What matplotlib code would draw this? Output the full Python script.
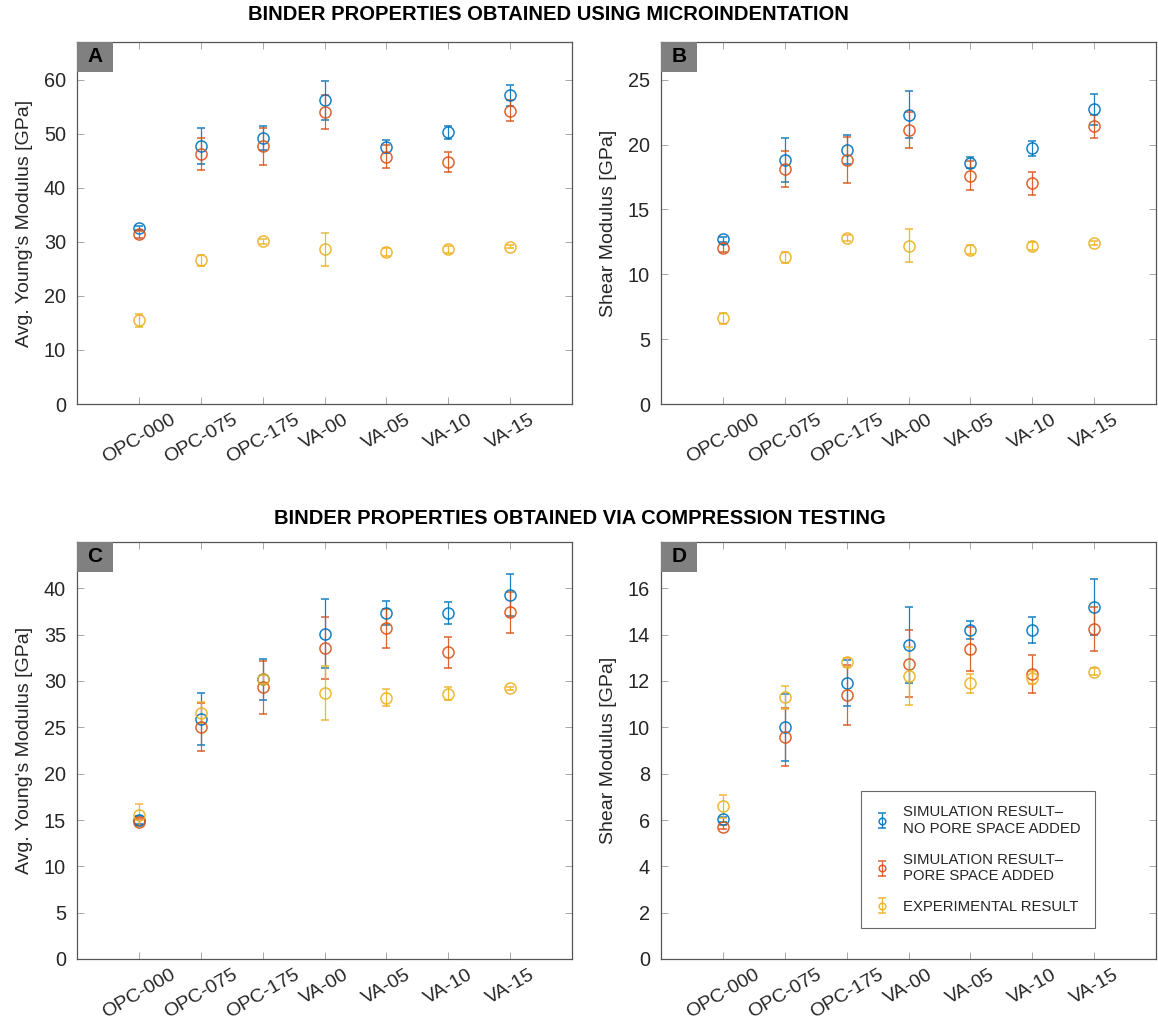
import matplotlib
matplotlib.use("Agg")
import matplotlib.pyplot as plt
from matplotlib.patches import Rectangle
import numpy as np

plt.rcParams['font.family'] = ['Liberation Sans', 'DejaVu Sans']

categories = ["OPC-000", "OPC-075", "OPC-175", "VA-00", "VA-05", "VA-10", "VA-15"]

# Panel A: Young's modulus (microindentation)
A_nopore = [32.6, 47.8, 49.3, 56.2, 47.6, 50.3, 57.1]
A_nopore_err = [0.4, 3.3, 2.2, 3.6, 1.2, 1.2, 2.0]
A_pore = [31.4, 46.3, 47.7, 54.0, 45.8, 44.8, 54.3]
A_pore_err = [0.6, 3.0, 3.4, 3.1, 2.2, 1.9, 2.0]
A_exp = [15.5, 26.6, 30.1, 28.6, 28.1, 28.6, 29.1]
A_exp_err = [1.2, 1.0, 0.5, 3.0, 0.8, 0.6, 0.3]

# Panel B: Shear modulus (microindentation)
B_nopore = [12.7, 18.8, 19.6, 22.3, 18.6, 19.7, 22.7]
B_nopore_err = [0.2, 1.7, 1.1, 1.8, 0.4, 0.6, 1.2]
B_pore = [12.0, 18.1, 18.8, 21.1, 17.6, 17.0, 21.4]
B_pore_err = [0.3, 1.4, 1.75, 1.4, 1.1, 0.9, 0.9]
B_exp = [6.6, 11.3, 12.8, 12.2, 11.9, 12.2, 12.4]
B_exp_err = [0.45, 0.45, 0.25, 1.25, 0.35, 0.3, 0.15]

# Panel C: Young's modulus (compression testing)
C_nopore = [15.0, 25.9, 30.2, 35.1, 37.3, 37.3, 39.3]
C_nopore_err = [0.4, 2.8, 2.2, 3.7, 1.3, 1.2, 2.3]
C_pore = [14.8, 25.0, 29.3, 33.6, 35.7, 33.1, 37.4]
C_pore_err = [0.3, 2.6, 2.85, 3.35, 2.1, 1.7, 2.2]
C_exp = [15.55, 26.6, 30.2, 28.7, 28.2, 28.65, 29.2]
C_exp_err = [1.15, 1.1, 0.5, 2.9, 0.9, 0.7, 0.2]

# Panel D: Shear modulus (compression testing)
D_nopore = [6.03, 10.0, 11.9, 13.55, 14.2, 14.2, 15.2]
D_nopore_err = [0.1, 1.45, 1.0, 1.65, 0.4, 0.57, 1.2]
D_pore = [5.7, 9.6, 11.4, 12.75, 13.4, 12.3, 14.25]
D_pore_err = [0.1, 1.25, 1.3, 1.45, 0.95, 0.83, 0.95]
D_exp = [6.6, 11.3, 12.8, 12.2, 11.9, 12.15, 12.4]
D_exp_err = [0.5, 0.5, 0.2, 1.25, 0.4, 0.3, 0.15]

series_labels = ["SIMULATION RESULT\u2013\nNO PORE SPACE ADDED",
                 "SIMULATION RESULT\u2013\nPORE SPACE ADDED",
                 "EXPERIMENTAL RESULT"]
colors = ["#0072BD", "#D95319", "#EDB120"]

panel_titles = ["BINDER PROPERTIES OBTAINED USING MICROINDENTATION",
                "BINDER PROPERTIES OBTAINED VIA COMPRESSION TESTING"]

W, H = 1158, 1024
fig = plt.figure(figsize=(W / 100, H / 100), dpi=100)


def px_axes(left, top, right, bottom):
    return fig.add_axes([left / W, 1 - bottom / H, (right - left) / W, (bottom - top) / H])


panels = [
    dict(box=(77, 42, 572, 404), letter="A", ylabel="Avg. Young's Modulus [GPa]", ylim=(0, 67),
         yticks=np.arange(0, 61, 10),
         data=[(A_nopore, A_nopore_err), (A_pore, A_pore_err), (A_exp, A_exp_err)]),
    dict(box=(661, 42, 1156, 404), letter="B", ylabel="Shear Modulus [GPa]", ylim=(0, 27.9),
         yticks=np.arange(0, 26, 5),
         data=[(B_nopore, B_nopore_err), (B_pore, B_pore_err), (B_exp, B_exp_err)]),
    dict(box=(77, 542, 572, 959), letter="C", ylabel="Avg. Young's Modulus [GPa]", ylim=(0, 45),
         yticks=np.arange(0, 41, 5),
         data=[(C_nopore, C_nopore_err), (C_pore, C_pore_err), (C_exp, C_exp_err)]),
    dict(box=(661, 542, 1156, 959), letter="D", ylabel="Shear Modulus [GPa]", ylim=(0, 18),
         yticks=np.arange(0, 17, 2),
         data=[(D_nopore, D_nopore_err), (D_pore, D_pore_err), (D_exp, D_exp_err)]),
]

x = np.arange(1, len(categories) + 1)
for p in panels:
    ax = px_axes(*p["box"])
    l, t, r, b = p["box"]
    aw, ah = r - l, b - t
    handles = []
    for (vals, errs), c, lab in zip(p["data"], colors, series_labels):
        h = ax.errorbar(x, vals, yerr=errs, fmt='o', mfc='none', mec=c, ms=8, mew=1.1,
                        ecolor=c, elinewidth=0.9, capsize=3.2, capthick=0.9, color=c,
                        alpha=0.9, label=lab)
        handles.append(h)
    ax.set_xlim(0, 8)
    ax.set_ylim(*p["ylim"])
    ax.set_yticks(p["yticks"])
    ax.set_xticks(x)
    ax.set_xticklabels(categories, rotation=30, ha='center', va='top', fontsize=14,
                       color='#262626')
    ax.tick_params(axis='y', pad=8)
    ax.tick_params(axis='x', pad=5)
    ax.tick_params(axis='both', direction='in', length=5, width=0.6, color='#999999',
                   top=True, right=True, labelsize=14.3, labelcolor='#262626')
    ax.tick_params(axis='x', labelsize=14)
    ax.set_ylabel(p["ylabel"], fontsize=14, color='#262626', labelpad=8)
    for s in ax.spines.values():
        s.set_color('#555555')
        s.set_linewidth(0.9)
    ax.add_patch(Rectangle((0, 1 - 30 / ah), 36 / aw, 30 / ah, transform=ax.transAxes,
                           fc='#808080', ec='none', zorder=5, clip_on=False))
    ax.text(18 / aw, 1 - 15 / ah, p["letter"], transform=ax.transAxes, ha='center',
            va='center', fontsize=15, fontweight='bold', color='black', zorder=6)
    if p["letter"] == "D":
        leg = ax.legend(handles=handles, loc='lower right', bbox_to_anchor=(0.877, 0.074),
                        fontsize=10.7, frameon=True, fancybox=False, edgecolor='#444444',
                        labelspacing=1.15, handlelength=0.9, borderpad=0.95,
                        handletextpad=1.0, markerscale=0.6, borderaxespad=0)
        leg.get_frame().set_linewidth(0.8)
        for t_ in leg.get_texts():
            t_.set_color('#262626')

fig.text(548 / W, 1 - 15 / H, panel_titles[0], ha='center', va='center',
         fontsize=14.5, fontweight='bold')
fig.text(580 / W, 1 - 519 / H, panel_titles[1], ha='center', va='center',
         fontsize=14.5, fontweight='bold')

fig.savefig("out.png", dpi=100, facecolor='white')
